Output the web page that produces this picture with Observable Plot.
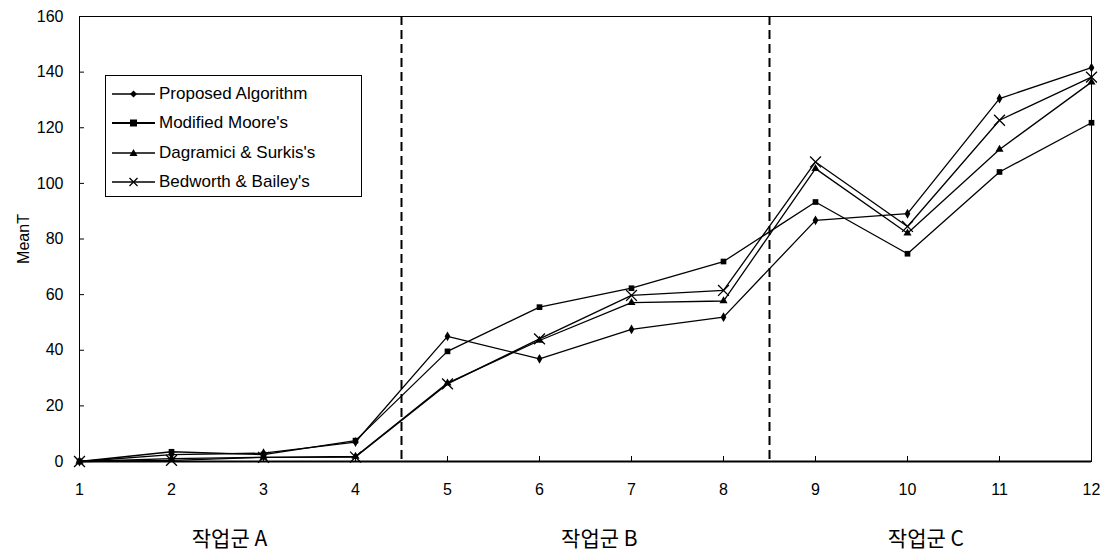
<!DOCTYPE html>
<html><head><meta charset="utf-8">
<script src="https://cdn.jsdelivr.net/npm/d3@7"></script>
<script src="https://cdn.jsdelivr.net/npm/@observablehq/plot@0.6"></script>
<style>
body{margin:0;background:#fff}
#wrap{position:relative;width:1116px;height:560px;font-family:"Liberation Sans",Arial,sans-serif}
#legend{position:absolute;left:105px;top:75px;width:257px;height:122px;border:1.5px solid #000;background:#fff;box-sizing:border-box;padding-top:3px}
.row{display:flex;align-items:center;height:29.5px;font-size:17px;color:#000}
.row svg{margin-left:6px;margin-right:4px}
</style>
</head><body><div id="wrap"></div>
<script>
const problems = [1,2,3,4,5,6,7,8,9,10,11,12];
const seriesNames = ["Proposed Algorithm","Modified Moore's","Dagramici & Surkis's","Bedworth & Bailey's"];
const proposed  = [0, 2.5, 3.0, 7.0, 45.0, 36.9, 47.5, 51.9, 86.7, 89.1, 130.5, 141.6];
const modified  = [0, 3.5, 2.5, 7.5, 39.6, 55.5, 62.3, 71.9, 93.3, 74.7, 104.1, 121.8];
const dagramici = [0, 1.0, 1.5, 1.8, 28.2, 43.5, 57.1, 57.7, 105.3, 82.1, 112.2, 136.4];
const bedworth  = [0, 0.4, 1.5, 1.6, 27.9, 44.1, 59.7, 61.5, 107.7, 84.5, 122.7, 138.2];
const seriesValues = [proposed, modified, dagramici, bedworth];
const seriesSymbols = ["diamond","square","triangle","times"];
const groupLabels = ["작업군 A","작업군 B","작업군 C"];
const groupCenters = [2.63, 6.65, 10.2];
const dividers = [4.5, 8.5];
const yTicks = [0,20,40,60,80,100,120,140,160];

const rows = seriesNames.flatMap((s, i) => problems.map((p, j) => ({series: s, problem: p, value: seriesValues[i][j]})));

const dotMarks = seriesNames.map((s, i) => {
  const data = rows.filter(d => d.series === s);
  const sym = seriesSymbols[i];
  if (sym === "times") return Plot.dot(data, {x: "problem", y: "value", symbol: "times", r: 5, stroke: "#000", strokeWidth: 1.3});
  return Plot.dot(data, {x: "problem", y: "value", symbol: sym, r: sym === "square" ? 3.2 : 3, fill: "#000", stroke: "none"});
});

const chart = Plot.plot({
  width: 1116, height: 560,
  marginLeft: 79, marginRight: 25, marginTop: 16, marginBottom: 99,
  style: {fontFamily: "'Liberation Sans', Arial, sans-serif", fontSize: "16px", color: "#000", background: "#fff"},
  x: {domain: [1, 12]},
  y: {domain: [0, 160]},
  marks: [
    Plot.frame({stroke: "#000", strokeWidth: 1}),
    Plot.ruleX(dividers, {stroke: "#000", strokeWidth: 2, strokeDasharray: "9,5"}),
    Plot.axisY({ticks: yTicks, tickSize: -5, tickFormat: () => "", label: null}),
    Plot.axisY({ticks: yTicks, tickSize: 0, tickPadding: 16, fontSize: 16, label: "MeanT", labelAnchor: "center", labelArrow: "none", labelOffset: 62}),
    Plot.axisX({ticks: problems, tickSize: -5, tickFormat: () => "", label: null}),
    Plot.axisX({ticks: problems, tickSize: 0, tickPadding: 22, fontSize: 16, label: null}),
    Plot.ruleY([0], {stroke: "#000", strokeWidth: 2}),
    Plot.line(rows, {x: "problem", y: "value", z: "series", stroke: "#000", strokeWidth: 1.3}),
    ...dotMarks,
    Plot.text(groupLabels, {x: (d, i) => groupCenters[i], text: d => d, frameAnchor: "bottom", dy: 84, fontFamily: "'Noto Sans CJK KR', sans-serif", fontSize: 21, fill: "#000"})
  ]
});
const wrap = document.getElementById("wrap");
wrap.appendChild(chart);

const legend = document.createElement("div");
legend.id = "legend";
seriesNames.forEach((s, i) => {
  const row = document.createElement("div");
  row.className = "row";
  const sym = seriesSymbols[i];
  let m = "";
  if (sym === "diamond") m = '<path d="M21.5,4.5L25,8L21.5,11.5L18,8Z" fill="#000"/>';
  if (sym === "square") m = '<rect x="18" y="4.5" width="7" height="7" fill="#000"/>';
  if (sym === "triangle") m = '<path d="M21.5,4L25.5,11L17.5,11Z" fill="#000"/>';
  if (sym === "times") m = '<path d="M17.5,4L25.5,12M25.5,4L17.5,12" stroke="#000" stroke-width="1.3"/>';
  row.innerHTML = '<svg width="43" height="16"><line x1="0" y1="8" x2="43" y2="8" stroke="#000" stroke-width="' + (sym === "square" ? 2.2 : 1.4) + '"/>' + m + '</svg><span>' + s + '</span>';
  legend.appendChild(row);
});
wrap.appendChild(legend);
</script>
</body></html>
